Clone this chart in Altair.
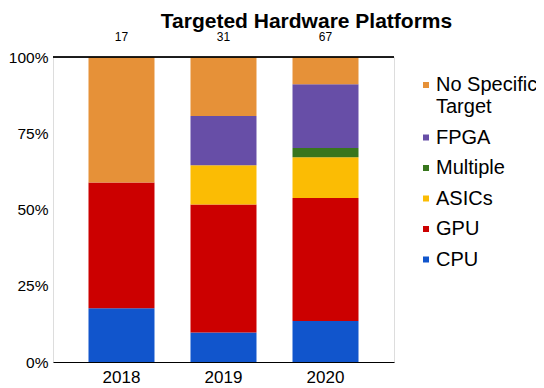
import altair as alt
import pandas as pd

title_text = "Targeted Hardware Platforms"
years = ["2018", "2019", "2020"]
totals = [17, 31, 67]
platforms = ["CPU", "GPU", "ASICs", "Multiple", "FPGA", "No Specific Target"]
legend_order = ["No Specific Target", "FPGA", "Multiple", "ASICs", "GPU", "CPU"]
colors = ["#E69138", "#674EA7", "#38761D", "#FBBC04", "#CC0000", "#1155CC"]
counts = {
    "CPU": [3, 3, 9],
    "GPU": [7, 13, 27],
    "ASICs": [0, 4, 9],
    "Multiple": [0, 0, 2],
    "FPGA": [0, 5, 14],
    "No Specific Target": [7, 6, 6],
}

rows = []
for i, p in enumerate(platforms):
    for j, y in enumerate(years):
        if counts[p][j] > 0:
            rows.append({"year": y, "platform": p, "count": counts[p][j], "idx": i})
df = pd.DataFrame(rows)
tot_df = pd.DataFrame({"year": years, "total": totals})
title_df = pd.DataFrame({"title": [title_text]})

FONT = "Liberation Sans"
W, H = 341, 305

x_enc = alt.X(
    "year:N",
    sort=years,
    scale=alt.Scale(paddingInner=0.353, paddingOuter=0.348),
    axis=alt.Axis(
        title=None, labelAngle=0, ticks=False, domainColor="#000000", domainWidth=1,
        labelFontSize=17, labelColor="#000000", labelFont=FONT, labelPadding=7,
    ),
)

bars = alt.Chart(df).mark_bar().encode(
    x=x_enc,
    y=alt.Y(
        "count:Q",
        stack="normalize",
        axis=alt.Axis(
            title=None, format=".0%", values=[0, 0.25, 0.5, 0.75, 1], grid=False,
            ticks=False, domain=False, labelFontSize=15.5, labelColor="#000000",
            labelFont=FONT, labelPadding=5,
        ),
    ),
    color=alt.Color(
        "platform:N",
        sort=legend_order,
        scale=alt.Scale(domain=legend_order, range=colors),
        legend=alt.Legend(
            title=None, orient="none", legendX=363, legendY=18, symbolType="square",
            symbolSize=36, symbolStrokeWidth=0, labelFontSize=20, labelFont=FONT,
            labelColor="#000000", labelOffset=0, rowPadding=10.5, labelLimit=200,
            padding=0,
            labelExpr="datum.label == 'No Specific Target' ? ['No Specific', 'Target'] : datum.label",
        ),
    ),
    order=alt.Order("idx:Q", sort="ascending"),
)

top_rule = alt.Chart(tot_df).mark_rule(color="#000000", strokeWidth=1).encode(
    x=alt.value(0), x2=alt.value(W), y=alt.value(0)
)

labels = alt.Chart(tot_df).mark_text(
    fontSize=12, font=FONT, color="#000000", baseline="alphabetic"
).encode(
    x=alt.X("year:N", sort=years),
    y=alt.value(-16),
    text="total:Q",
)

title = alt.Chart(title_df).mark_text(
    fontSize=21, font=FONT, fontWeight="bold", color="#000000",
    baseline="alphabetic", align="center",
).encode(
    x=alt.value(W / 2 + 83),
    y=alt.value(-29.5),
    text="title:N",
)

chart = alt.layer(bars, top_rule, labels, title).properties(
    width=W,
    height=H,
    autosize=alt.AutoSizeParams(type="none"),
    padding={"left": 45, "top": 49, "right": 142, "bottom": 26},
).configure_view(stroke=None).configure(background="white")

chart.save("out.html", embed_options={"renderer": "svg", "actions": False})
